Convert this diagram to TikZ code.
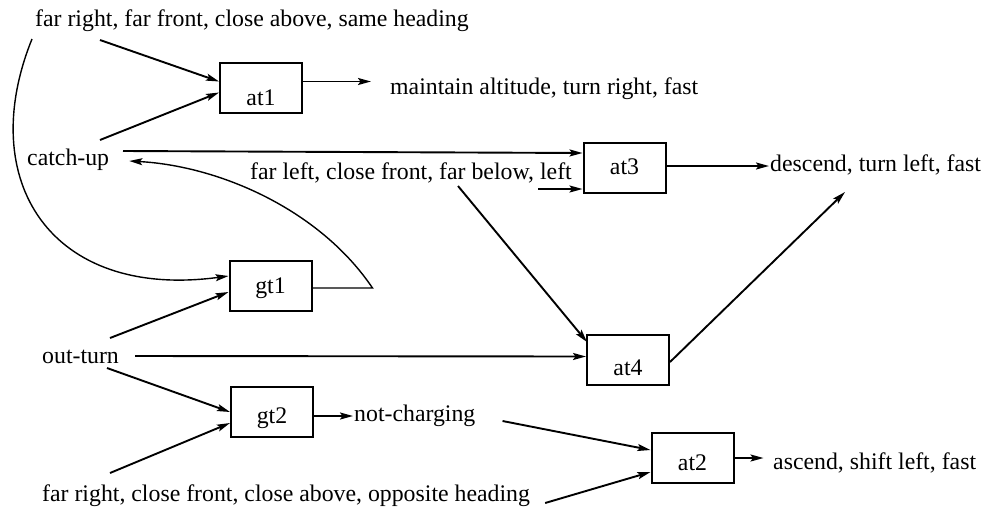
\documentclass[tikz,border=0pt]{standalone}
\usepackage{fontspec}
\setmainfont{Liberation Serif}
\usetikzlibrary{arrows.meta}
\begin{document}
\begin{tikzpicture}[x=1pt,y=-1pt,
  every node/.style={font=\fontsize{23.8}{28}\selectfont},
  box/.style={draw, line width=2pt, minimum width=82pt, minimum height=50pt, inner sep=0pt},
  lbl/.style={anchor=west, inner sep=0pt, text height=16.3pt, text depth=5.2pt},
  conn/.style={line width=1.9pt, -{Stealth[length=13pt,width=7pt,inset=2.5pt]}},
  curvedconn/.style={line width=1.4pt, -{Stealth[length=13pt,width=7pt,inset=2.5pt]}}
]
\useasboundingbox (0,0) rectangle (990,512);

% rule boxes
\node[box, text height=35pt, text depth=0pt]   (at1) at (261,87.5)  {at1};
\node[box, text height=16.5pt, text depth=4pt] (at3) at (624.5,168) {at3};
\node[box, text height=31.6pt, text depth=0pt] (at4) at (628,359.5) {at4};
\node[box, text height=24.6pt, text depth=0pt] (at2) at (692.5,458) {at2};
\node[box, text height=20.6pt, text depth=5pt] (gt1) at (270.5,285.5) {gt1};
\node[box, text height=27.6pt, text depth=5pt] (gt2) at (272,412) {gt2};

% conditions and actions
\node[lbl] (t1) at (35,20.5)  {far right, far front, close above, same heading};
\node[lbl] (cu) at (27,159.5) {catch-up};
\node[lbl] (m1) at (390,89)   {maintain altitude, turn right, fast};
\node[lbl] (fl) at (250,174)  {far left, close front, far below, left};
\node[lbl] (d3) at (770,166)  {descend, turn left, fast};
\node[lbl] (ot) at (42,357.5) {out-turn};
\node[lbl] (nc) at (354,416)  {not-charging};
\node[lbl] (b1) at (42,495.5) {far right, close front, close above, opposite heading};
\node[lbl] (as) at (773,464)  {ascend, shift left, fast};

% inputs of at1
\draw[conn] ([shift={(65,19.5)}]t1.west) -- ([shift={(0,-6)}]at1.west);
\draw[conn] ([shift={(73,-19.5)}]cu.west) -- ([shift={(0,5)}]at1.west);
\draw[conn] ([yshift=6pt]at1.east) -- ++(68,0);

% inputs of at3
\draw[conn] ([shift={(96,-8.5)}]cu.west) -- ([shift={(0,-15)}]at3.west);
\draw[conn] ([shift={(288,15)}]fl.west) -- ([shift={(0,21)}]at3.west);
\draw[conn] (at3.east |- d3.west) -- ([xshift=-1pt]d3.west);

% inputs of at4
\draw[conn] ([shift={(208,12)}]fl.west) -- ([shift={(1,8.5)}]at4.north west);
\draw[conn] ([shift={(93,-1.5)}]ot.west) -- ([shift={(0,-3)}]at4.west);
\draw[conn] ([shift={(0,2.5)}]at4.east) -- ([shift={(75,26)}]d3.west);

% gt1 feeds back into catch-up
\draw[curvedconn] ([shift={(0,2.5)}]gt1.east) -- ++(60,0)
  .. controls (320,210) and (220,166) .. ([shift={(20,1.5)}]cu.east);

% inputs of gt1
\draw[curvedconn] ([shift={(-3,18.5)}]t1.west)
  .. controls (-25,180) and (50,300) .. ([shift={(0,-9.5)}]gt1.west);
\draw[conn] ([shift={(68,-19.5)}]ot.west) -- ([shift={(0,6.5)}]gt1.west);

% inputs of gt2
\draw[conn] ([shift={(65,10.5)}]ot.west) -- (gt2.west);
\draw[conn] ([shift={(68,-22.5)}]b1.west) -- ([shift={(0,11)}]gt2.west);
\draw[conn] (gt2.east |- nc.west) -- ([xshift=-1pt]nc.west);

% inputs of at2
\draw[conn] ([shift={(27,5)}]nc.east) -- ([shift={(0,-8)}]at2.west);
\draw[conn] ([shift={(15,7.5)}]b1.east) -- ([shift={(0,14)}]at2.west);
\draw[conn] (at2.east) -- ++(29,0);
\end{tikzpicture}
\end{document}
